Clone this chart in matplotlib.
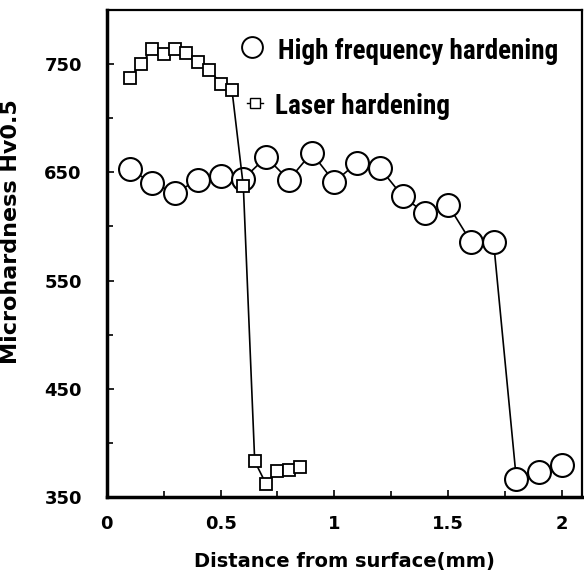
import matplotlib
matplotlib.use("Agg")
import matplotlib.pyplot as plt

# datos
dist_hf = [0.1, 0.2, 0.3, 0.4, 0.5, 0.6, 0.7, 0.8, 0.9, 1.0,
           1.1, 1.2, 1.3, 1.4, 1.5, 1.6, 1.7, 1.8, 1.9, 2.0]
dureza_hf = [653, 640, 631, 643, 647, 644, 664, 643, 668, 641,
             659, 654, 628, 612, 620, 586, 586, 367, 373, 380]

dist_laser = [0.1, 0.15, 0.2, 0.25, 0.3, 0.35, 0.4, 0.45,
              0.5, 0.55, 0.6, 0.65, 0.7, 0.75, 0.8, 0.85]
dureza_laser = [737, 750, 764, 759, 764, 760, 752, 745,
                732, 726, 637, 383, 362, 374, 375, 378]

ticks_x = [0, 0.5, 1, 1.5, 2]
etiq_x = ["0", "0.5", "1", "1.5", "2"]
ticks_y = [350, 450, 550, 650, 750]
etiquetas = ["High frequency hardening", "Laser hardening"]

fig = plt.figure(figsize=(5.84, 5.81), dpi=100)
ax = fig.add_axes([0.183, 0.1446, 0.814, 0.8382])

ax.plot(dist_hf, dureza_hf, color="black", lw=1.2, marker="o", ms=16.5,
        mfc="white", mec="black", mew=1.5)
ax.plot(dist_laser, dureza_laser, color="black", lw=1.2, marker="s", ms=8.5,
        mfc="white", mec="black", mew=1.3)

ax.set_xlim(0, 2.09)
ax.set_ylim(350, 800)
ax.set_xticks(ticks_x, etiq_x)
ax.set_xticks([0.25, 0.75, 1.25, 1.75], minor=True)
ax.set_yticks(ticks_y)
ax.set_yticks([400, 500, 600, 700, 800], minor=True)

ax.tick_params(which="both", direction="in", top=False, right=False,
               width=1.2, colors="black")
ax.tick_params(which="major", length=5)
ax.tick_params(which="minor", length=4)
ax.tick_params(axis="x", pad=13)
ax.tick_params(axis="y", pad=18)
for lab in ax.get_xticklabels() + ax.get_yticklabels():
    lab.set_fontweight("bold")
    lab.set_fontsize(13)

for lado in ["left", "bottom"]:
    ax.spines[lado].set_linewidth(2.5)
for lado in ["top", "right"]:
    ax.spines[lado].set_linewidth(1.6)

ax.set_ylabel("Microhardness Hv0.5", fontsize=16, fontweight="bold")
ax.yaxis.set_label_coords(-0.18, 0.545)
ax.set_xlabel("Distance from surface(mm)", fontsize=14, fontweight="bold", labelpad=14)

# leyenda a mano (letra estrecha como en el original)
ax.plot([0.305], [0.924], transform=ax.transAxes, ls="none", marker="o", ms=15,
        mfc="white", mec="black", mew=1.4, clip_on=False)
ax.plot([0.295, 0.328], [0.809, 0.809], transform=ax.transAxes, color="black",
        lw=1.0, clip_on=False)
ax.plot([0.312], [0.809], transform=ax.transAxes, ls="none", marker="s", ms=6.5,
        mfc="white", mec="black", mew=1.0, clip_on=False)

fuente_ley = {"family": ["Roboto Condensed", "DejaVu Sans"], "weight": "bold", "size": 19.5}
ax.text(0.36, 0.899, etiquetas[0], transform=ax.transAxes, ha="left",
        va="baseline", color="black", fontdict=fuente_ley)
ax.text(0.354, 0.786, etiquetas[1], transform=ax.transAxes, ha="left",
        va="baseline", color="black", fontdict=fuente_ley)

fig.savefig("out.png", dpi=100)
